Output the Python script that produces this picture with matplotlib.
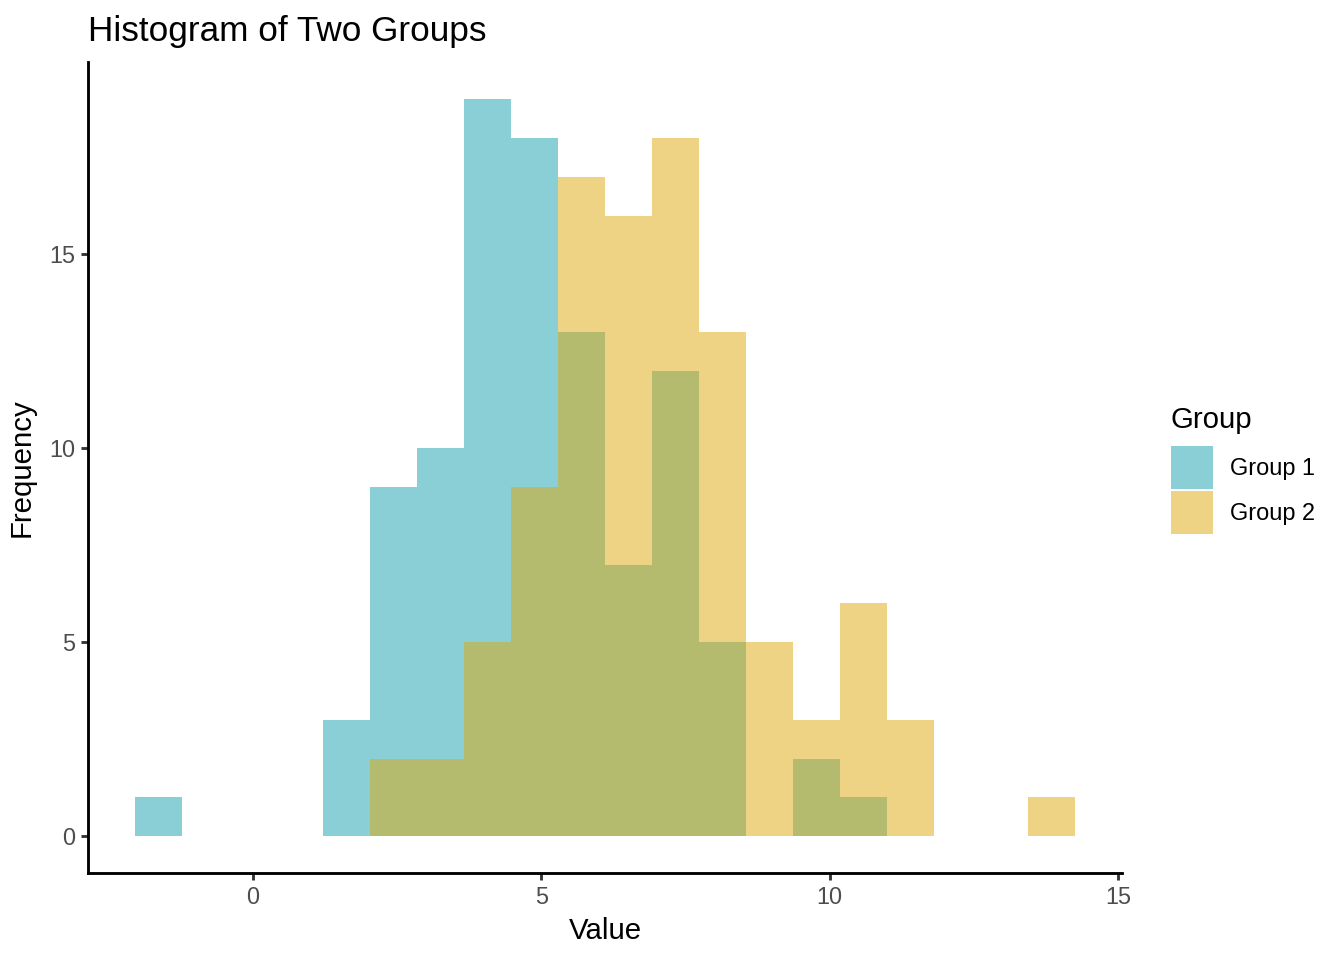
import matplotlib.pyplot as plt
from matplotlib.patches import Patch
import numpy as np

plt.rcParams['font.family'] = ['Liberation Sans', 'DejaVu Sans']

# bin edges (20 bins) and counts per group
edge_lo = -2.04
edge_hi = 14.26
n_bins = 20
group1_counts = [1, 0, 0, 0, 3, 9, 10, 19, 18, 13, 7, 12, 5, 0, 2, 1, 0, 0, 0, 0]
group2_counts = [0, 0, 0, 0, 0, 2, 2, 5, 9, 17, 16, 18, 13, 5, 3, 6, 3, 0, 0, 1]
group_names = ['Group 1', 'Group 2']
group_colors = ['#15A0AD', '#DFA90B']

edges = np.linspace(edge_lo, edge_hi, n_bins + 1)
width = edges[1] - edges[0]

fig = plt.figure(figsize=(7, 5), dpi=192)
ax = fig.add_axes([0.0655, 0.0906, 0.835 - 0.0655, 0.935 - 0.0906])

for counts, col in zip([group1_counts, group2_counts], group_colors):
    ax.bar(edges[:-1], counts, width=width, align='edge', color=col, alpha=0.5,
           linewidth=0)

rng = edge_hi - edge_lo
ax.set_xlim(edge_lo - 0.05 * rng, edge_hi + 0.05 * rng)
ax.set_ylim(-0.05 * 19, 19 * 1.05)
ax.set_xticks([0, 5, 10, 15])
ax.set_yticks([0, 5, 10, 15])

for s in ['top', 'right']:
    ax.spines[s].set_visible(False)
for s in ['left', 'bottom']:
    ax.spines[s].set_linewidth(1.07)
    ax.spines[s].set_color('black')
ax.tick_params(direction='out', length=2.75, width=1.07, color='#333333',
               labelcolor='#4D4D4D', labelsize=8.8, pad=2.2)

ax.set_xlabel('Value', fontsize=11, labelpad=3)
ax.set_ylabel('Frequency', fontsize=11, labelpad=5)
ax.set_title('Histogram of Two Groups', fontsize=13.2, loc='left', pad=8)

handles = [Patch(facecolor=c, alpha=0.5, linewidth=0) for c in group_colors]
leg = fig.legend(handles, group_names, title='Group', loc='upper left',
                 bbox_to_anchor=(0.871, 0.577), frameon=False, fontsize=8.8,
                 title_fontsize=11, handlelength=1.79, handleheight=2.45,
                 labelspacing=0.08, handletextpad=0.72, borderaxespad=0,
                 borderpad=0)
leg._legend_box.align = 'left'
leg._legend_box.sep = 4.5  # points between title and keys

fig.savefig('out.png', dpi=192)
